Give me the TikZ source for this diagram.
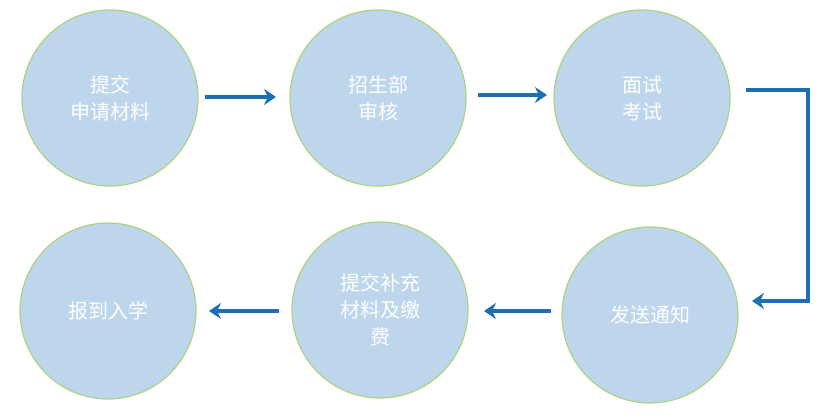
\documentclass[tikz,border=0pt]{standalone}
\usepackage{fontspec}
\newfontfamily\cjk{Noto Sans CJK SC}
\usetikzlibrary{arrows.meta}
\definecolor{cfill}{RGB}{189,214,236}
\definecolor{cedge}{RGB}{175,210,130}
\definecolor{carrow}{RGB}{30,110,180}
\begin{document}
\begin{tikzpicture}[x=1pt,y=-1pt,
  stage/.style={circle,minimum size=176pt,fill=cfill,draw=cedge,line width=1.2pt,text=white,font=\cjk\fontsize{20}{27}\selectfont,align=center,inner sep=0pt},
  flow/.style={draw=carrow,line width=3.5pt,-{Stealth[length=12pt,width=16pt]}}]
\useasboundingbox (0,0) rectangle (830,418);
\node[stage] (a) at (110,98) {提交\\申请材料};
\node[stage] (b) at (378,98) {招生部\\审核};
\node[stage] (c) at (642,98) {面试\\考试};
\node[stage] (d) at (650,315) {发送通知};
\node[stage] (e) at (380,310) {提交补充\\材料及缴\\费};
\node[stage] (f) at (108,311) {报到入学};
\coordinate (c1) at (746,90);
\coordinate (c2) at (808,90);
\coordinate (c3) at (808,301);
\coordinate (d1) at (752,301);
\draw[flow] (205,97) -- (276,97);
\draw[flow] (478,95) -- (547,95);
\draw[flow] (c1) -- (c2) -- (c3) -- (d1);
\draw[flow] (551,311) -- (484,311);
\draw[flow] (279,311) -- (209,311);
\end{tikzpicture}
\end{document}
